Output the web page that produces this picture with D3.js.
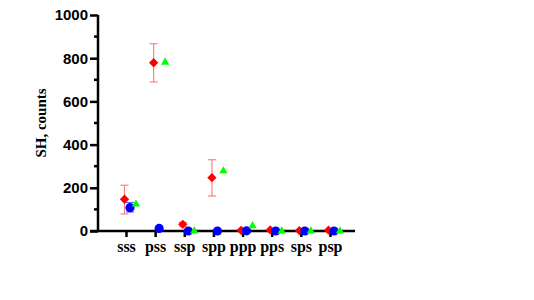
<!DOCTYPE html>
<html>
<head>
<meta charset="utf-8">
<script src="https://cdn.jsdelivr.net/npm/d3@7"></script>
<style>
body{margin:0;background:#fff;}
</style>
</head>
<body>
<script>
// categories and series
var categories = ["sss","pss","ssp","spp","ppp","pps","sps","psp"];
var redVals = [147, 779, 31, 247, 3, 5, 2, 4];
var redLow  = [79, 690, 22, 162, null, null, null, null];
var redHigh = [212, 867, 40, 330, null, null, null, null];
var blueVals = [108, 12, 0, 0, 1, 0, 0, 0];
var blueLow  = [88, null, null, null, null, null, null, null];
var blueHigh = [132, null, null, null, null, null, null, null];
var greenVals = [124, 781, 0, 278, 24, 0, 0, 0];
var yTicks = [0, 200, 400, 600, 800, 1000];
var yMinor = [100, 300, 500, 700, 900];

var svgWidth = 534, svgHeight = 300;
var svg = d3.select("body").append("svg")
  .attr("width", svgWidth).attr("height", svgHeight);

var x = d3.scalePoint().domain(categories).range([126, 330]);
var y = d3.scaleLinear().domain([0, 1000]).range([231, 15]);

// y axis
var yAxis = svg.append("g").attr("transform", "translate(98,0)")
  .call(d3.axisLeft(y).tickValues(yTicks).tickFormat(d3.format("d")).tickSize(8).tickPadding(2));
yAxis.select(".domain").attr("stroke-width", 2.5).attr("d", "M0,15V231");
yAxis.selectAll(".tick line").attr("stroke-width", 2.5);
yAxis.selectAll("text").attr("font-family", "Liberation Sans, Arial, sans-serif")
  .attr("font-weight", "bold").attr("font-size", 15).attr("fill", "#000");
svg.append("g").selectAll("line").data(yMinor).join("line")
  .attr("x1", 94).attr("x2", 98)
  .attr("y1", d => y(d)).attr("y2", d => y(d))
  .attr("stroke", "#000").attr("stroke-width", 2.5);

// x axis
var xAxis = svg.append("g").attr("transform", "translate(0,231)")
  .call(d3.axisBottom(x).tickSize(6).tickPadding(4));
xAxis.select(".domain").attr("stroke-width", 2.5).attr("d", "M90,0H355");
xAxis.selectAll(".tick line").attr("stroke-width", 2.5);
xAxis.selectAll("text").attr("font-family", "Liberation Serif, Times New Roman, serif")
  .attr("font-weight", "bold").attr("font-size", 16).attr("fill", "#000");

// y title
svg.append("text")
  .attr("transform", "translate(46,123) rotate(-90)")
  .attr("text-anchor", "middle")
  .attr("font-family", "Liberation Serif, Times New Roman, serif")
  .attr("font-weight", "bold").attr("font-size", 15)
  .text("SH, counts");

function errorBars(low, high, dx, color) {
  var g = svg.append("g").attr("stroke", color).attr("stroke-width", 1.2);
  categories.forEach(function(c, i) {
    if (low[i] == null) return;
    var cx = x(c) + dx;
    g.append("line").attr("x1", cx).attr("x2", cx).attr("y1", y(low[i])).attr("y2", y(high[i]));
    g.append("line").attr("x1", cx - 4).attr("x2", cx + 4).attr("y1", y(low[i])).attr("y2", y(low[i]));
    g.append("line").attr("x1", cx - 4).attr("x2", cx + 4).attr("y1", y(high[i])).attr("y2", y(high[i]));
  });
}

errorBars(redLow, redHigh, -1.5, "#ff8080");
errorBars(blueLow, blueHigh, 4, "#6666ff");

// red diamonds
svg.append("g").selectAll("path").data(redVals).join("path")
  .attr("transform", (d, i) => `translate(${x(categories[i]) - 1.5},${y(d)})`)
  .attr("d", d3.symbol(d3.symbolDiamond2, 55))
  .attr("fill", "#ff0000");
// blue circles
svg.append("g").selectAll("circle").data(blueVals).join("circle")
  .attr("cx", (d, i) => x(categories[i]) + 4)
  .attr("cy", d => y(d))
  .attr("r", 4.6)
  .attr("fill", "#0000ff");
// green triangles
svg.append("g").selectAll("path").data(greenVals).join("path")
  .attr("transform", (d, i) => `translate(${x(categories[i]) + 10},${y(d)})`)
  .attr("d", d3.symbol(d3.symbolTriangle, 30))
  .attr("fill", "#00ff00");
</script>
</body>
</html>
